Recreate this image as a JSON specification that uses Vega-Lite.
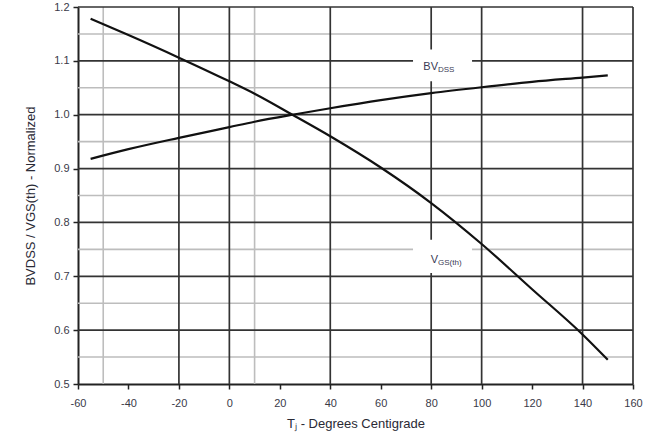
{
  "$schema": "https://vega.github.io/schema/vega-lite/v6.json",
  "width": 555,
  "height": 377,
  "autosize": "none",
  "padding": {"left": 78, "top": 7, "right": 30, "bottom": 55},
  "background": "white",
  "config": {
    "view": {"stroke": null},
    "axis": {
      "labelFont": "Liberation Sans",
      "labelFontSize": 11,
      "labelColor": "#3a3a48",
      "titleFont": "Liberation Sans",
      "titleFontSize": 13,
      "titleFontWeight": "normal",
      "titleColor": "#2a2a35",
      "domainColor": "#222",
      "domainWidth": 2,
      "tickColor": "#222",
      "tickWidth": 1.5,
      "tickSize": 5,
      "grid": false,
      "labelFlush": false,
      "labelExpr": "replace(datum.label, '−', '-')"
    },
    "axisX": {"labelPadding": 8, "titlePadding": 9},
    "axisY": {"labelPadding": 4, "titlePadding": 16}
  },
  "layer": [
    {
      "data": {"values": [{"v": 0.55}, {"v": 0.65}, {"v": 0.75}, {"v": 0.85}, {"v": 0.95}, {"v": 1.05}, {"v": 1.15}]},
      "mark": {"type": "rule", "color": "#bdbdbd", "strokeWidth": 1.6},
      "encoding": {"y": {"field": "v", "type": "quantitative", "scale": {"domain": [0.5, 1.2], "nice": false},
        "axis": {"values": [0.5, 0.6, 0.7, 0.8, 0.9, 1.0, 1.1, 1.2], "format": ".1f", "title": "BVDSS / VGS(th) - Normalized"}}}
    },
    {
      "data": {"values": [{"t": -50}, {"t": 10}]},
      "mark": {"type": "rule", "color": "#bdbdbd", "strokeWidth": 1.6},
      "encoding": {"x": {"field": "t", "type": "quantitative", "scale": {"domain": [-60, 160], "nice": false},
        "axis": {"values": [-60, -40, -20, 0, 20, 40, 60, 80, 100, 120, 140, 160], "title": "Tⱼ - Degrees Centigrade"}}}
    },
    {
      "data": {"values": [{"v": 0.6}, {"v": 0.7}, {"v": 0.8}, {"v": 0.9}, {"v": 1.0}, {"v": 1.1}, {"v": 1.2}]},
      "mark": {"type": "rule", "color": "#333333", "strokeWidth": 1.7},
      "encoding": {"y": {"field": "v", "type": "quantitative",
        "axis": {"values": [0.5, 0.6, 0.7, 0.8, 0.9, 1.0, 1.1, 1.2], "format": ".1f", "title": "BVDSS / VGS(th) - Normalized"}}}
    },
    {
      "data": {"values": [{"t": -20}, {"t": 0}, {"t": 40}, {"t": 80}, {"t": 100}, {"t": 140}, {"t": 160}]},
      "mark": {"type": "rule", "color": "#333333", "strokeWidth": 1.7},
      "encoding": {"x": {"field": "t", "type": "quantitative",
        "axis": {"values": [-60, -40, -20, 0, 20, 40, 60, 80, 100, 120, 140, 160], "title": "Tⱼ - Degrees Centigrade"}}}
    },
    {
      "data": {"values": [
        {"x1": 72.8, "x2": 96.2, "y1": 1.062, "y2": 1.121},
        {"x1": 72.8, "x2": 96.2, "y1": 0.706, "y2": 0.768}
      ]},
      "mark": {"type": "rect", "color": "white"},
      "encoding": {
        "x": {"field": "x1", "type": "quantitative",
          "axis": {"values": [-60, -40, -20, 0, 20, 40, 60, 80, 100, 120, 140, 160], "title": "Tⱼ - Degrees Centigrade"}},
        "x2": {"field": "x2"},
        "y": {"field": "y1", "type": "quantitative",
          "axis": {"values": [0.5, 0.6, 0.7, 0.8, 0.9, 1.0, 1.1, 1.2], "format": ".1f", "title": "BVDSS / VGS(th) - Normalized"}},
        "y2": {"field": "y2"}
      }
    },
    {
      "data": {"values": [
        {"t": -55, "v": 0.918, "s": "BV"}, {"t": -40, "v": 0.936, "s": "BV"}, {"t": -20, "v": 0.957, "s": "BV"},
        {"t": 0, "v": 0.977, "s": "BV"}, {"t": 10, "v": 0.987, "s": "BV"}, {"t": 25, "v": 1.0, "s": "BV"},
        {"t": 40, "v": 1.012, "s": "BV"}, {"t": 60, "v": 1.027, "s": "BV"}, {"t": 80, "v": 1.040, "s": "BV"},
        {"t": 100, "v": 1.051, "s": "BV"}, {"t": 120, "v": 1.061, "s": "BV"}, {"t": 140, "v": 1.069, "s": "BV"},
        {"t": 150, "v": 1.073, "s": "BV"},
        {"t": -55, "v": 1.178, "s": "VGS"}, {"t": -40, "v": 1.148, "s": "VGS"}, {"t": -20, "v": 1.106, "s": "VGS"},
        {"t": 0, "v": 1.062, "s": "VGS"}, {"t": 10, "v": 1.039, "s": "VGS"}, {"t": 25, "v": 1.0, "s": "VGS"},
        {"t": 40, "v": 0.960, "s": "VGS"}, {"t": 60, "v": 0.902, "s": "VGS"}, {"t": 80, "v": 0.836, "s": "VGS"},
        {"t": 100, "v": 0.760, "s": "VGS"}, {"t": 120, "v": 0.676, "s": "VGS"}, {"t": 140, "v": 0.592, "s": "VGS"},
        {"t": 150, "v": 0.545, "s": "VGS"}
      ]},
      "mark": {"type": "line", "color": "#111", "strokeWidth": 2.2, "interpolate": "monotone"},
      "encoding": {
        "x": {"field": "t", "type": "quantitative",
          "axis": {"values": [-60, -40, -20, 0, 20, 40, 60, 80, 100, 120, 140, 160], "title": "Tⱼ - Degrees Centigrade"}},
        "y": {"field": "v", "type": "quantitative",
          "axis": {"values": [0.5, 0.6, 0.7, 0.8, 0.9, 1.0, 1.1, 1.2], "format": ".1f", "title": "BVDSS / VGS(th) - Normalized"}},
        "detail": {"field": "s"}
      }
    },
    {
      "data": {"values": [{"t": 83.5, "v": 1.089, "txt": "BV"}, {"t": 83.5, "v": 0.731, "txt": "V"}]},
      "mark": {"type": "text", "align": "right", "baseline": "middle", "font": "Liberation Sans", "fontSize": 11, "color": "#3a3a55", "dx": -2},
      "encoding": {
        "x": {"field": "t", "type": "quantitative",
          "axis": {"values": [-60, -40, -20, 0, 20, 40, 60, 80, 100, 120, 140, 160], "title": "Tⱼ - Degrees Centigrade"}},
        "y": {"field": "v", "type": "quantitative",
          "axis": {"values": [0.5, 0.6, 0.7, 0.8, 0.9, 1.0, 1.1, 1.2], "format": ".1f", "title": "BVDSS / VGS(th) - Normalized"}},
        "text": {"field": "txt"}
      }
    },
    {
      "data": {"values": [{"t": 83.5, "v": 1.089, "txt": "DSS"}, {"t": 83.5, "v": 0.731, "txt": "GS(th)"}]},
      "mark": {"type": "text", "align": "left", "baseline": "middle", "font": "Liberation Sans", "fontSize": 8, "color": "#3a3a55", "dx": -2, "dy": 3},
      "encoding": {
        "x": {"field": "t", "type": "quantitative",
          "axis": {"values": [-60, -40, -20, 0, 20, 40, 60, 80, 100, 120, 140, 160], "title": "Tⱼ - Degrees Centigrade"}},
        "y": {"field": "v", "type": "quantitative",
          "axis": {"values": [0.5, 0.6, 0.7, 0.8, 0.9, 1.0, 1.1, 1.2], "format": ".1f", "title": "BVDSS / VGS(th) - Normalized"}},
        "text": {"field": "txt"}
      }
    }
  ]
}
